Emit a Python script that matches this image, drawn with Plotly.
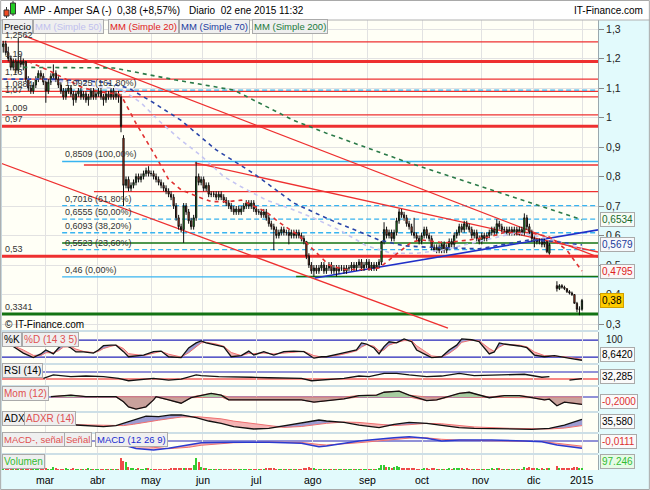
import plotly.graph_objects as go

# ------------------------------------------------------------------ data
# daily candles, trading-day index 0..231 (5 feb 2014 .. 02 ene 2015)
OPEN = [1.24,1.25,1.22,1.20,1.17,1.19,1.16,1.19,1.18,1.19,
        1.13,1.10,1.09,1.11,1.13,1.15,1.14,1.12,1.09,1.12,
        1.14,1.15,1.13,1.11,1.09,1.07,1.09,1.10,1.08,1.06,
        1.08,1.09,1.07,1.08,1.06,1.07,1.09,1.07,1.08,1.09,
        1.07,1.06,1.08,1.07,1.09,1.07,1.08,1.07,0.93,0.77,
        0.79,0.76,0.77,0.78,0.80,0.79,0.80,0.81,0.82,0.81,
        0.81,0.80,0.79,0.78,0.77,0.76,0.75,0.74,0.73,0.70,
        0.66,0.63,0.62,0.70,0.68,0.65,0.63,0.66,0.80,0.78,
        0.79,0.76,0.77,0.74,0.74,0.74,0.73,0.74,0.73,0.72,
        0.71,0.70,0.69,0.68,0.69,0.68,0.69,0.70,0.71,0.70,
        0.71,0.69,0.68,0.68,0.67,0.68,0.66,0.64,0.63,0.62,
        0.60,0.61,0.62,0.61,0.61,0.60,0.61,0.60,0.61,0.60,
        0.59,0.58,0.53,0.50,0.48,0.49,0.48,0.49,0.50,0.48,
        0.49,0.50,0.48,0.49,0.48,0.49,0.49,0.48,0.49,0.49,
        0.50,0.49,0.50,0.51,0.49,0.50,0.51,0.49,0.50,0.49,
        0.50,0.51,0.58,0.62,0.60,0.61,0.59,0.61,0.65,0.68,
        0.67,0.66,0.64,0.63,0.61,0.60,0.59,0.58,0.60,0.62,
        0.60,0.59,0.56,0.55,0.56,0.55,0.57,0.55,0.56,0.58,
        0.57,0.60,0.61,0.63,0.62,0.64,0.63,0.62,0.60,0.61,
        0.59,0.58,0.60,0.59,0.60,0.61,0.62,0.61,0.64,0.63,
        0.62,0.62,0.61,0.62,0.61,0.62,0.61,0.62,0.61,0.66,
        0.63,0.61,0.59,0.58,0.58,0.58,0.57,0.58,0.54,None,
        None,0.43,0.42,0.43,0.425,0.42,0.41,0.405,0.40,0.37,
        0.35,0.35]
HIGH = [1.26,1.26,1.24,1.21,1.20,1.20,1.27,1.21,1.20,1.19,
        1.14,1.11,1.12,1.14,1.16,1.16,1.15,1.13,1.13,1.15,
        1.18,1.16,1.14,1.12,1.10,1.10,1.11,1.11,1.09,1.09,
        1.10,1.10,1.09,1.09,1.08,1.10,1.10,1.09,1.10,1.10,
        1.08,1.09,1.09,1.10,1.10,1.09,1.09,1.08,0.94,0.80,
        0.80,0.78,0.79,0.81,0.81,0.81,0.82,0.83,0.835,0.82,
        0.82,0.81,0.80,0.79,0.78,0.77,0.76,0.75,0.74,0.71,
        0.67,0.64,0.71,0.71,0.69,0.66,0.67,0.85,0.81,0.80,
        0.80,0.78,0.78,0.75,0.75,0.75,0.75,0.75,0.74,0.73,
        0.72,0.71,0.70,0.70,0.70,0.70,0.71,0.72,0.72,0.72,
        0.72,0.70,0.69,0.69,0.69,0.69,0.67,0.65,0.64,0.63,
        0.62,0.63,0.63,0.62,0.62,0.62,0.62,0.62,0.62,0.61,
        0.60,0.58,0.54,0.51,0.50,0.50,0.50,0.51,0.51,0.50,
        0.51,0.51,0.50,0.50,0.50,0.50,0.50,0.50,0.50,0.51,
        0.51,0.51,0.52,0.52,0.51,0.52,0.52,0.51,0.51,0.51,
        0.52,0.58,0.645,0.63,0.62,0.62,0.62,0.66,0.69,0.69,
        0.68,0.67,0.65,0.64,0.66,0.61,0.60,0.61,0.63,0.63,
        0.61,0.60,0.57,0.57,0.57,0.58,0.58,0.57,0.59,0.59,
        0.61,0.62,0.64,0.64,0.65,0.65,0.64,0.63,0.62,0.62,
        0.60,0.61,0.61,0.61,0.62,0.63,0.63,0.655,0.65,0.64,
        0.63,0.63,0.63,0.63,0.63,0.63,0.63,0.63,0.675,0.67,
        0.64,0.62,0.60,0.59,0.59,0.59,0.59,0.58,0.575,None,
        None,0.445,0.435,0.435,0.43,0.42,0.415,0.41,0.40,0.375,
        0.36,0.385]
LOW = [1.22,1.21,1.19,1.16,1.16,1.15,1.15,1.17,1.16,1.12,
       1.09,1.08,1.08,1.10,1.12,1.13,1.11,1.05,1.08,1.11,
       1.13,1.12,1.10,1.08,1.06,1.06,1.08,1.07,1.04,1.05,
       1.07,1.06,1.06,1.05,1.04,1.06,1.06,1.06,1.07,1.06,
       1.04,1.05,1.06,1.06,1.06,1.06,1.05,0.95,0.70,0.76,
       0.75,0.75,0.76,0.77,0.78,0.78,0.79,0.80,0.80,0.80,
       0.79,0.78,0.77,0.76,0.75,0.74,0.73,0.72,0.69,0.65,
       0.62,0.61,0.575,0.67,0.64,0.62,0.62,0.65,0.77,0.77,
       0.75,0.75,0.73,0.73,0.73,0.72,0.72,0.72,0.71,0.70,
       0.69,0.68,0.67,0.67,0.67,0.67,0.68,0.69,0.69,0.69,
       0.68,0.67,0.67,0.66,0.66,0.65,0.63,0.62,0.55,0.59,
       0.59,0.60,0.60,0.60,0.57,0.59,0.59,0.59,0.59,0.58,
       0.57,0.52,0.49,0.47,0.46,0.47,0.47,0.48,0.47,0.47,
       0.48,0.47,0.47,0.46,0.47,0.48,0.47,0.47,0.48,0.48,
       0.48,0.48,0.49,0.48,0.48,0.49,0.48,0.48,0.48,0.48,
       0.49,0.50,0.57,0.59,0.59,0.58,0.58,0.60,0.64,0.66,
       0.65,0.63,0.62,0.60,0.59,0.58,0.57,0.57,0.59,0.59,
       0.58,0.55,0.545,0.54,0.54,0.54,0.54,0.54,0.55,0.56,
       0.56,0.59,0.60,0.61,0.61,0.62,0.61,0.59,0.59,0.58,
       0.57,0.57,0.58,0.58,0.59,0.60,0.60,0.60,0.62,0.61,
       0.61,0.60,0.60,0.60,0.60,0.60,0.60,0.60,0.60,0.62,
       0.60,0.58,0.56,0.57,0.57,0.56,0.56,0.54,0.535,None,
       None,0.41,0.415,0.42,0.415,0.405,0.40,0.395,0.37,0.34,
       0.33,0.345]
CLOSE = [1.25,1.22,1.20,1.17,1.19,1.16,1.19,1.18,1.19,1.13,
         1.10,1.09,1.11,1.13,1.15,1.14,1.12,1.09,1.12,1.14,
         1.15,1.13,1.11,1.09,1.07,1.09,1.10,1.08,1.06,1.08,
         1.09,1.07,1.08,1.06,1.07,1.09,1.07,1.08,1.09,1.07,
         1.06,1.08,1.07,1.09,1.07,1.08,1.07,0.97,0.77,0.79,
         0.76,0.77,0.78,0.80,0.79,0.80,0.81,0.82,0.81,0.81,
         0.80,0.79,0.78,0.77,0.76,0.75,0.74,0.73,0.70,0.66,
         0.63,0.62,0.70,0.68,0.65,0.63,0.66,0.80,0.78,0.79,
         0.76,0.77,0.74,0.74,0.74,0.73,0.74,0.73,0.72,0.71,
         0.70,0.69,0.68,0.69,0.68,0.69,0.70,0.71,0.70,0.71,
         0.69,0.68,0.68,0.67,0.68,0.66,0.64,0.63,0.62,0.60,
         0.61,0.62,0.61,0.61,0.60,0.61,0.60,0.61,0.60,0.59,
         0.58,0.53,0.50,0.48,0.49,0.48,0.49,0.50,0.48,0.49,
         0.50,0.48,0.49,0.48,0.49,0.49,0.48,0.49,0.49,0.50,
         0.49,0.50,0.51,0.49,0.50,0.51,0.49,0.50,0.49,0.50,
         0.51,0.58,0.62,0.60,0.61,0.59,0.61,0.65,0.68,0.67,
         0.66,0.64,0.63,0.61,0.60,0.59,0.58,0.60,0.62,0.60,
         0.59,0.56,0.55,0.56,0.55,0.57,0.55,0.56,0.58,0.57,
         0.60,0.61,0.63,0.62,0.64,0.63,0.62,0.60,0.61,0.59,
         0.58,0.60,0.59,0.60,0.61,0.62,0.61,0.64,0.63,0.62,
         0.62,0.61,0.62,0.61,0.62,0.61,0.62,0.61,0.66,0.63,
         0.61,0.59,0.58,0.58,0.58,0.57,0.58,0.545,0.57,None,
         None,0.42,0.43,0.425,0.42,0.41,0.405,0.40,0.37,0.35,
         0.35,0.38]
VOLUME = [60,40,50,80,40,60,120,50,40,70,
          90,60,40,50,60,40,50,150,60,50,
          160,70,60,50,40,80,40,50,90,60,
          40,50,40,60,70,50,40,30,50,40,
          60,50,40,50,40,50,60,750,560,500,
          180,120,80,60,70,50,60,90,80,50,
          40,50,40,30,50,40,60,70,120,150,
          90,80,150,100,70,80,310,750,500,200,
          120,80,60,50,40,50,40,30,60,40,
          40,30,50,40,30,40,50,60,40,30,
          40,50,30,40,60,70,80,90,120,60,
          50,40,30,40,60,40,30,40,50,40,
          70,150,200,120,80,60,50,40,60,40,
          50,30,40,60,40,30,50,40,30,40,
          50,40,60,50,40,50,40,60,50,40,
          90,320,300,200,180,150,160,250,200,120,
          140,110,90,80,70,60,50,60,80,70,
          60,90,80,60,50,60,40,50,70,60,
          80,90,100,70,60,80,50,40,60,50,
          50,40,60,50,40,70,50,120,80,60,
          50,40,60,50,40,30,50,40,160,90,
          180,150,120,80,60,70,50,90,140,0,
          0,220,120,90,80,100,120,110,180,200,
          150,97]
DAYS = list(range(len(CLOSE)))

MONTH_POS = [16.7, 37.8, 59.0, 79.7, 100.9, 123.6, 145.2, 167.2, 190.7, 211.5, 231.1]
MONTH_LABELS = ["mar", "abr", "may", "jun", "jul", "ago", "sep", "oct", "nov", "dic", "2015"]

PRICE_TICKS = [0.3, 0.4, 0.5, 0.6, 0.7, 0.8, 0.9, 1.0, 1.1, 1.2, 1.3]
PRICE_TICK_TEXT = ["0,3", "0,4", "0,5", "0,6", "0,7", "0,8", "0,9", "1", "1,1", "1,2", "1,3"]

SMA20_DAY = [10,18,25,32,40,46,48,53,61,66,71,78,83,90,95,100,105,110,118,124,130,136,145,150,155,159,163,167,176,186,194,200,210,218,225,231]
SMA20_VAL = [1.19,1.16,1.13,1.10,1.085,1.08,1.06,0.98,0.866,0.79,0.755,0.73,0.715,0.715,0.72,0.70,0.68,0.645,0.60,0.55,0.50,0.485,0.485,0.49,0.524,0.55,0.578,0.585,0.575,0.585,0.595,0.61,0.61,0.595,0.55,0.4795]
SMA50_DAY = [0,15,30,47,55,62,70,79,88,95,105,115,125,135,145,155,165,175,190,205,218,231]
SMA50_VAL = [1.13,1.13,1.115,1.095,1.05,0.99,0.93,0.87,0.80,0.765,0.72,0.69,0.655,0.615,0.565,0.54,0.54,0.55,0.58,0.61,0.59,0.556]
SMA70_DAY = [0,20,40,50,60,71,85,100,116,130,140,150,160,170,190,210,220,231]
SMA70_VAL = [1.13,1.13,1.12,1.10,1.05,0.99,0.89,0.81,0.71,0.655,0.62,0.585,0.565,0.56,0.555,0.585,0.58,0.5679]
SMA200_DAY = [8,44,69,92,116,129,162,195,231]
SMA200_VAL = [1.17,1.168,1.127,1.093,0.99,0.947,0.846,0.754,0.6534]

RED_LEVELS = [1.2562, 1.19, 1.13, 1.0884, 1.07, 1.009, 0.97, 0.839, 0.7485, 0.53]
RED_LEVEL_FROM = [-1, -1, -1, -1, -1, -1, -1, 32.2, 36.2, -1]
RED_LEVEL_THICK = [False, True, False, False, False, False, True, False, False, True]
LEFT_LABEL_VALUES = [1.2562, 1.19, 1.13, 1.0884, 1.07, 1.009, 0.97, 0.53, 0.3341]
LEFT_LABEL_TEXT = ["1,2562", "1,19", "1,13", "1,0884", "1,07", "1,009", "0,97", "0,53", "0,3341"]
FIB_VALUES = [1.0925, 0.8509, 0.7016, 0.6555, 0.6093, 0.5523, 0.46]
FIB_TEXT = ["1,0925 (161,80%)", "0,8509 (100,00%)", "0,7016 (61,80%)", "0,6555 (50,00%)",
            "0,6093 (38,20%)", "0,5523 (23,60%)", "0,46 (0,00%)"]
FIB_SOLID = [False, True, False, False, False, False, True]
FIB_FROM = 23.5
GREEN_LEVELS = [0.5746, 0.461, 0.3341]
GREEN_FROM = [23.5, 116.9, -1]

# trend lines: (day0, value0, day1, value1)
RED_TRENDS = [(8.7, 1.276, 237.4, 0.527), (-1.3, 0.846, 177.5, 0.2864), (76.5, 0.846, 237.4, 0.544)]
BLUE_TREND = (124.4, 0.456, 237.4, 0.619)

STOCH_DAY = [4,8,12,15,17,20,22,24,27,29,32,36,38,40,43,45,48,50,56,60,63,66,71,74,77,79,81,85,88,91,95,98,100,104,108,112,116,120,124,127,129,134,138,141,143,145,148,150,152,154,157,160,163,165,169,171,175,178,181,183,187,190,194,196,198,200,206,209,212,216,220,224,228,231]
STOCH_K = [57,34,18,31,45,31,52,66,52,38,38,34,45,60,62,62,39,21,27,39,41,21,18,52,70,77,70,62,56,21,25,41,27,39,27,39,41,39,16,21,21,31,39,45,70,66,52,31,57,74,70,84,74,45,27,18,21,45,62,84,81,74,31,38,70,66,59,53,27,21,25,18,13,8.6]
STOCH_D = [60,45,26,25,35,36,42,55,58,48,40,36,40,50,58,62,50,32,25,33,40,30,20,35,58,70,72,66,58,36,25,33,32,34,31,34,39,40,25,20,21,27,35,42,55,64,58,42,45,62,72,78,78,60,36,24,20,33,52,72,80,77,50,40,55,64,62,56,38,25,23,21,16,12]

RSI_DAY = [16,20,27,33,40,46,50,56,60,66,71,77,79,86,92,99,106,112,119,123,128,136,142,146,152,157,162,169,175,182,188,195,202,208,215,218,219,226,231]
RSI_VAL = [34,53,43,47,43,34,20,29,34,24,29,53,49,43,43,40,37,34,34,20,26,34,47,43,62,62,53,43,47,62,49,53,53,57,40,43,None,24,32.3]

MOM_DAY = [19,27,33,40,45,48,50,53,57,60,61,66,71,75,79,83,87,90,95,100,106,112,119,124,128,136,142,149,152,158,162,169,173,178,182,186,190,194,200,206,211,216,218,221,224,228,231]
MOM_VAL = [0.01,0.05,0.01,0.01,0.01,-0.13,-0.27,-0.33,-0.27,-0.08,0.01,-0.08,-0.17,-0.02,0.05,0.10,0.05,-0.08,-0.08,-0.08,-0.08,-0.10,-0.08,-0.14,-0.11,-0.05,0.04,0.05,0.13,0.16,0.05,-0.10,-0.08,0.01,0.10,0.13,0.05,-0.02,0.04,0.04,-0.02,-0.08,-0.06,-0.24,-0.14,-0.17,-0.20]

ADX_DAY = [29,40,45,48,52,57,62,67,71,77,82,87,92,100,106,112,119,126,129,136,142,150,156,162,169,175,182,188,202,211,218,224,231]
ADX_VAL = [23.3,19.6,21.8,27,34.4,43,41.8,45.6,45.6,39.6,32.2,27,19.6,14.4,16,21.8,27,34.4,32.2,29.3,23.3,17.4,24.9,29.3,27,21.8,17.4,16,14.4,13.8,16,23.3,35.58]
ADXR_VAL = [24,22,21,22,25,30,34,38,41,42,40,37,32,26,21,18,20,25,27,30,29,25,22,24,27,26,22,19,16,15,14.5,16.5,22]

MACD_DAY = [40,48,53,60,66,74,79,92,106,119,126,129,142,156,162,169,175,182,195,208,215,221,231]
MACD_VAL = [0.0,-0.014,-0.026,-0.0315,-0.0256,-0.014,-0.006,-0.004,-0.004,-0.0081,-0.020,-0.0175,0.0,0.0116,0.015,0.0095,0.0,0.0035,0.0035,0.0,-0.0025,-0.014,-0.0256]
SIGNAL_VAL = [0.0,-0.004,-0.012,-0.022,-0.027,-0.022,-0.015,-0.006,-0.004,-0.005,-0.012,-0.014,-0.006,0.004,0.010,0.011,0.006,0.003,0.002,0.0,-0.002,-0.008,-0.018]

# ------------------------------------------------------------------ layout helpers
W, H = 650, 490
FONT = "Liberation Sans, Arial, sans-serif"


def px(x):
    return x / W


def py(y):
    return 1 - y / H


X_RANGE = [-0.5, 237.4]
XDOM = [px(2), px(598)]
PANELS = {  # pixel top, pixel bottom, value range
    "": (20, 330, [0.2797, 1.3305]),
    "2": (332, 363, [-1.06, 108.4]),
    "3": (365, 385, [-4.3, 110]),
    "4": (387, 411, [-0.3836, 0.274]),
    "5": (413, 432, [7.78, 50]),
    "6": (434, 453, [-0.042, 0.0245]),
    "7": (455, 470, [0, 900]),
}

fig = go.Figure()

# ------------------------------------------------------------------ price panel
fig.add_trace(go.Candlestick(
    x=DAYS, open=OPEN, high=HIGH, low=LOW, close=CLOSE, xaxis="x", yaxis="y",
    increasing=dict(line=dict(color="#111111", width=1), fillcolor="#22cc22"),
    decreasing=dict(line=dict(color="#111111", width=1), fillcolor="#f04a22"),
    whiskerwidth=0, hoverinfo="skip"))

for d, v, c in [(SMA50_DAY, SMA50_VAL, "#c6c6f2"), (SMA70_DAY, SMA70_VAL, "#2a45a8"),
                (SMA200_DAY, SMA200_VAL, "#2a7a48"), (SMA20_DAY, SMA20_VAL, "#e03030")]:
    fig.add_trace(go.Scatter(x=d, y=v, mode="lines", xaxis="x", yaxis="y",
                             line=dict(color=c, width=1.6, dash="4px,4px"), hoverinfo="skip"))

# ------------------------------------------------------------------ stochastic
k_hi = [max(a, b) for a, b in zip(STOCH_K, STOCH_D)]
k_lo = [min(a, b) for a, b in zip(STOCH_K, STOCH_D)]
ax2 = dict(xaxis="x2", yaxis="y2", hoverinfo="skip", mode="lines")
fig.add_trace(go.Scatter(x=STOCH_DAY, y=STOCH_D, line=dict(width=0), **ax2))
fig.add_trace(go.Scatter(x=STOCH_DAY, y=k_hi, line=dict(width=0), fill="tonexty", fillcolor="#9c9cd2", **ax2))
fig.add_trace(go.Scatter(x=STOCH_DAY, y=STOCH_D, line=dict(width=0), **ax2))
fig.add_trace(go.Scatter(x=STOCH_DAY, y=k_lo, line=dict(width=0), fill="tonexty", fillcolor="#f4b4b4", **ax2))
fig.add_trace(go.Scatter(x=STOCH_DAY, y=STOCH_D, line=dict(color="#f07070", width=1), **ax2))
fig.add_trace(go.Scatter(x=STOCH_DAY, y=STOCH_K, line=dict(color="#111111", width=1.3), **ax2))

# ------------------------------------------------------------------ RSI
fig.add_trace(go.Scatter(x=RSI_DAY, y=RSI_VAL, mode="lines", xaxis="x3", yaxis="y3",
                         line=dict(color="#111111", width=1.3), hoverinfo="skip"))

# ------------------------------------------------------------------ momentum
mom_pos = [max(v, 0) for v in MOM_VAL]
mom_neg = [min(v, 0) for v in MOM_VAL]
fig.add_trace(go.Scatter(x=MOM_DAY, y=mom_neg, mode="lines", xaxis="x4", yaxis="y4", fill="tozeroy",
                         fillcolor="#c9a29c", line=dict(color="#e07070", width=1), hoverinfo="skip"))
fig.add_trace(go.Scatter(x=MOM_DAY, y=mom_pos, mode="lines", xaxis="x4", yaxis="y4", fill="tozeroy",
                         fillcolor="#a6cca0", line=dict(color="#e07070", width=1), hoverinfo="skip"))
fig.add_trace(go.Scatter(x=MOM_DAY, y=MOM_VAL, mode="lines", xaxis="x4", yaxis="y4",
                         line=dict(color="#111111", width=1.3), hoverinfo="skip"))

# ------------------------------------------------------------------ ADX
a_hi = [max(a, b) for a, b in zip(ADX_VAL, ADXR_VAL)]
a_lo = [min(a, b) for a, b in zip(ADX_VAL, ADXR_VAL)]
ax5 = dict(xaxis="x5", yaxis="y5", hoverinfo="skip", mode="lines")
fig.add_trace(go.Scatter(x=ADX_DAY, y=ADXR_VAL, line=dict(width=0), **ax5))
fig.add_trace(go.Scatter(x=ADX_DAY, y=a_hi, line=dict(width=0), fill="tonexty", fillcolor="#9c9cd2", **ax5))
fig.add_trace(go.Scatter(x=ADX_DAY, y=ADXR_VAL, line=dict(width=0), **ax5))
fig.add_trace(go.Scatter(x=ADX_DAY, y=a_lo, line=dict(width=0), fill="tonexty", fillcolor="#f4b4b4", **ax5))
fig.add_trace(go.Scatter(x=ADX_DAY, y=ADXR_VAL, line=dict(color="#f07070", width=1), **ax5))
fig.add_trace(go.Scatter(x=ADX_DAY, y=ADX_VAL, line=dict(color="#111111", width=1.3), **ax5))

# ------------------------------------------------------------------ MACD
ax6 = dict(xaxis="x6", yaxis="y6", hoverinfo="skip", mode="lines")
fig.add_trace(go.Scatter(x=MACD_DAY, y=SIGNAL_VAL, line=dict(width=0), **ax6))
fig.add_trace(go.Scatter(x=MACD_DAY, y=MACD_VAL, line=dict(width=0), fill="tonexty", fillcolor="#f4b4b4", **ax6))
fig.add_trace(go.Scatter(x=MACD_DAY, y=SIGNAL_VAL, line=dict(color="#f07070", width=1), **ax6))
fig.add_trace(go.Scatter(x=MACD_DAY, y=MACD_VAL, line=dict(color="#2a3ad0", width=1.5), **ax6))

# ------------------------------------------------------------------ volume
vol_colors = ["#33cc33" if (o is not None and c >= o) else "#ee4a4a" for o, c in zip(OPEN, CLOSE)]
fig.add_trace(go.Bar(x=DAYS, y=VOLUME, marker=dict(color=vol_colors, line=dict(width=0)), width=0.45,
                     xaxis="x7", yaxis="y7", hoverinfo="skip"))

# ------------------------------------------------------------------ axes
layout = dict(
    width=W, height=H, margin=dict(l=0, r=0, t=0, b=0),
    paper_bgcolor="#cddfe6", plot_bgcolor="#fffff6",
    showlegend=False, separators=",.", bargap=0,
    font=dict(family=FONT, size=10, color="#000000"),
)
for key, (top, bot, rng) in PANELS.items():
    layout["xaxis" + key] = dict(
        domain=XDOM, range=X_RANGE, anchor="y" + key, showgrid=True, gridcolor="#e2e2e2",
        gridwidth=1, tickvals=MONTH_POS, showticklabels=False,
        ticks="", zeroline=False, showline=False, fixedrange=True,
        rangeslider=dict(visible=False))
    layout["yaxis" + key] = dict(
        domain=[py(bot), py(top)], range=rng, anchor="x" + key, side="right",
        showgrid=False, zeroline=False, showticklabels=False, showline=True,
        linecolor="#9aa8ae", linewidth=1, fixedrange=True)
layout["yaxis"].update(tickvals=PRICE_TICKS, ticktext=PRICE_TICK_TEXT, showticklabels=True,
                       showgrid=True, gridcolor="#e2e2e2", ticks="outside", ticklen=5,
                       tickcolor="#888888", tickfont=dict(size=10.5, family=FONT, color="#222222"))
fig.update_layout(**layout)

# ------------------------------------------------------------------ shapes
shapes = []
# page backgrounds
shapes.append(dict(type="rect", xref="paper", yref="paper", x0=0, x1=1, y0=py(20), y1=1,
                   fillcolor="#ffffff", line=dict(width=0), layer="below"))
shapes.append(dict(type="rect", xref="paper", yref="paper", x0=px(598), x1=1, y0=0, y1=py(20),
                   fillcolor="#e2fafc", line=dict(width=0), layer="below"))
shapes.append(dict(type="rect", xref="paper", yref="paper", x0=0, x1=1, y0=0, y1=py(470),
                   fillcolor="#e2fafc", line=dict(width=0), layer="below"))
shapes.append(dict(type="line", xref="paper", yref="paper", x0=0, x1=1, y0=py(20), y1=py(20),
                   line=dict(color="#b0b0b0", width=1)))
shapes.append(dict(type="rect", xref="paper", yref="paper", x0=0.001, x1=0.999, y0=0.001, y1=0.999,
                   line=dict(color="#a8a8a8", width=1)))
# header icon
shapes.append(dict(type="line", xref="paper", yref="paper", x0=px(6.5), x1=px(6.5), y0=py(18), y1=py(7),
                   line=dict(color="#333333", width=1)))
shapes.append(dict(type="rect", xref="paper", yref="paper", x0=px(4), x1=px(9), y0=py(16), y1=py(10),
                   fillcolor="#f04a22", line=dict(color="#333333", width=1)))
shapes.append(dict(type="line", xref="paper", yref="paper", x0=px(13), x1=px(13), y0=py(16), y1=py(1),
                   line=dict(color="#333333", width=1)))
shapes.append(dict(type="rect", xref="paper", yref="paper", x0=px(10.5), x1=px(15.5), y0=py(14), y1=py(3),
                   fillcolor="#22cc22", line=dict(color="#333333", width=1)))

# price levels
for v, start, thick in zip(RED_LEVELS, RED_LEVEL_FROM, RED_LEVEL_THICK):
    shapes.append(dict(type="line", xref="x", yref="y", x0=start, x1=X_RANGE[1], y0=v, y1=v,
                       line=dict(color="#ee3030", width=3 if thick else 1.3), layer="between"))
for v, solid in zip(FIB_VALUES, FIB_SOLID):
    shapes.append(dict(type="line", xref="x", yref="y", x0=FIB_FROM, x1=X_RANGE[1], y0=v, y1=v,
                       line=dict(color="#38b4f0", width=1.3, dash="solid" if solid else "5px,3px"),
                       layer="between"))
for v, start in zip(GREEN_LEVELS, GREEN_FROM):
    shapes.append(dict(type="line", xref="x", yref="y", x0=start, x1=X_RANGE[1], y0=v, y1=v,
                       line=dict(color="#137313", width=3 if start < 0 else 1.5), layer="between"))
for d0, v0, d1, v1 in RED_TRENDS:
    shapes.append(dict(type="line", xref="x", yref="y", x0=d0, x1=d1, y0=v0, y1=v1,
                       line=dict(color="#ee3030", width=1.3), layer="between"))
d0, v0, d1, v1 = BLUE_TREND
shapes.append(dict(type="line", xref="x", yref="y", x0=d0, x1=d1, y0=v0, y1=v1,
                   line=dict(color="#2030c8", width=1.6), layer="between"))

# indicator reference lines
for yref, v, c in [("y2", 80, "#2424b8"), ("y2", 20, "#2424b8"), ("y3", 70, "#2424b8"),
                   ("y3", 30, "#ee1010"), ("y4", 0, "#2424b8"), ("y6", 0, "#2424b8")]:
    shapes.append(dict(type="line", xref="paper", yref=yref, x0=XDOM[0], x1=XDOM[1], y0=v, y1=v,
                       line=dict(color=c, width=1.2), layer="between"))
fig.update_layout(shapes=shapes)

# ------------------------------------------------------------------ annotations
ann = []


def text(t, x, y, color="#000000", size=10, xanchor="left", yref="paper", yval=None,
         bg=None, border=None, yanchor="middle", xref="paper"):
    d = dict(text=t, x=(px(x) if xref == "paper" else x), xref=xref, yref=yref,
             y=(py(y) if yval is None else yval), xanchor=xanchor, yanchor=yanchor,
             showarrow=False, font=dict(family=FONT, size=size, color=color))
    if bg is not None:
        d.update(bgcolor=bg, bordercolor=border or "#aaaaaa", borderwidth=1, borderpad=1)
    return d


# header
ann.append(text("AMP - Amper SA (-)", 22, 10, size=10))
ann.append(text("0,38 (+8,57%)", 115, 10, size=10))
ann.append(text("Diario  02 ene 2015 11:32", 187, 10, size=10))
ann.append(text("IT-Finance.com", 645, 10, size=10, xanchor="right"))

# legend boxes
LB = "#efefef"
LS = 9.5
ann.append(text("Precio", 2, 26.5, bg=LB, size=LS))
ann.append(text("MM (Simple 50)", 33, 26.5, color="#c0c0ee", bg=LB, size=LS))
ann.append(text("MM (Simple 20)", 108, 26.5, color="#e02020", bg=LB, size=LS))
ann.append(text("MM (Simple 70)", 179, 26.5, color="#1a3aa0", bg=LB, size=LS))
ann.append(text("MM (Simple 200)", 252, 26.5, color="#1a7a3a", bg=LB, size=LS))

# level labels
for v, t in zip(LEFT_LABEL_VALUES, LEFT_LABEL_TEXT):
    ann.append(text(t, 3, 0, color="#333333", size=9, yref="y", yval=v, yanchor="bottom"))
for v, t in zip(FIB_VALUES, FIB_TEXT):
    ann.append(text(t, 63, 0, color="#333333", size=9, yref="y", yval=v, yanchor="bottom"))

ann.append(text("\u00a9 IT-Finance.com", 3, 324.5, size=10))

# month labels along the shared day axis
for pos, lab in zip(MONTH_POS, MONTH_LABELS):
    ann.append(text(lab, pos, 480, size=10.5, xanchor="center", xref="x7"))

# last-value tags
ann.append(text("0,6534", 600, 0, color="#1a6a2a", yref="y", yval=0.6534, bg="#f6fbf6", size=10))
ann.append(text("0,5679", 600, 0, color="#1a3a9a", yref="y", yval=0.5679, bg="#f6f8fb", size=10))
ann.append(text("0,4795", 600, 0, color="#dd2020", yref="y", yval=0.4795, bg="#fbf6f6", size=10))
ann.append(text("0,38", 600, 0, color="#000000", yref="y", yval=0.38, bg="#ffcc00", border="#d0a000", size=10))

# sub-panel legends
ann.append(text("%K", 2, 339, bg=LB, size=10))
ann.append(text("%D (14 3 5)", 22, 339, color="#e05050", bg=LB, size=10))
ann.append(text("RSI (14)", 2, 370.5, bg=LB, size=10))
ann.append(text("Mom (12)", 2, 393.5, color="#e05050", bg=LB, size=10))
ann.append(text("ADX", 2, 418.5, bg=LB, size=10))
ann.append(text("ADXR (14)", 24, 418.5, color="#e05050", bg=LB, size=10))
ann.append(text("MACD-, se\u00f1al", 2, 439.5, color="#e05050", bg=LB, size=LS))
ann.append(text("Se\u00f1al", 64, 439.5, color="#e05050", bg=LB, size=LS))
ann.append(text("MACD (12 26 9)", 95, 439.5, color="#1a2ad0", bg=LB, size=LS))
ann.append(text("Volumen", 2, 461, color="#33bb33", bg=LB, size=10))

# sub-panel values
ann.append(text("100", 604, 339, size=10, color="#222222"))
ann.append(text("8,6420", 600, 354, bg="#fafafa", size=10))
ann.append(text("32,285", 600, 376, bg="#fafafa", size=10))
ann.append(text("-0,2000", 600, 401.5, color="#dd3030", bg="#fafafa", size=10))
ann.append(text("35,580", 600, 421.5, bg="#fafafa", size=10))
ann.append(text("-0,0111", 600, 441, color="#dd3030", bg="#fafafa", size=10))
ann.append(text("97.246", 600, 461, color="#33bb33", bg="#e6fbe6", size=10))

fig.update_layout(annotations=ann)

fig.write_html("out.html", config={"displayModeBar": False},
               post_script="document.body.style.margin='0px';")
